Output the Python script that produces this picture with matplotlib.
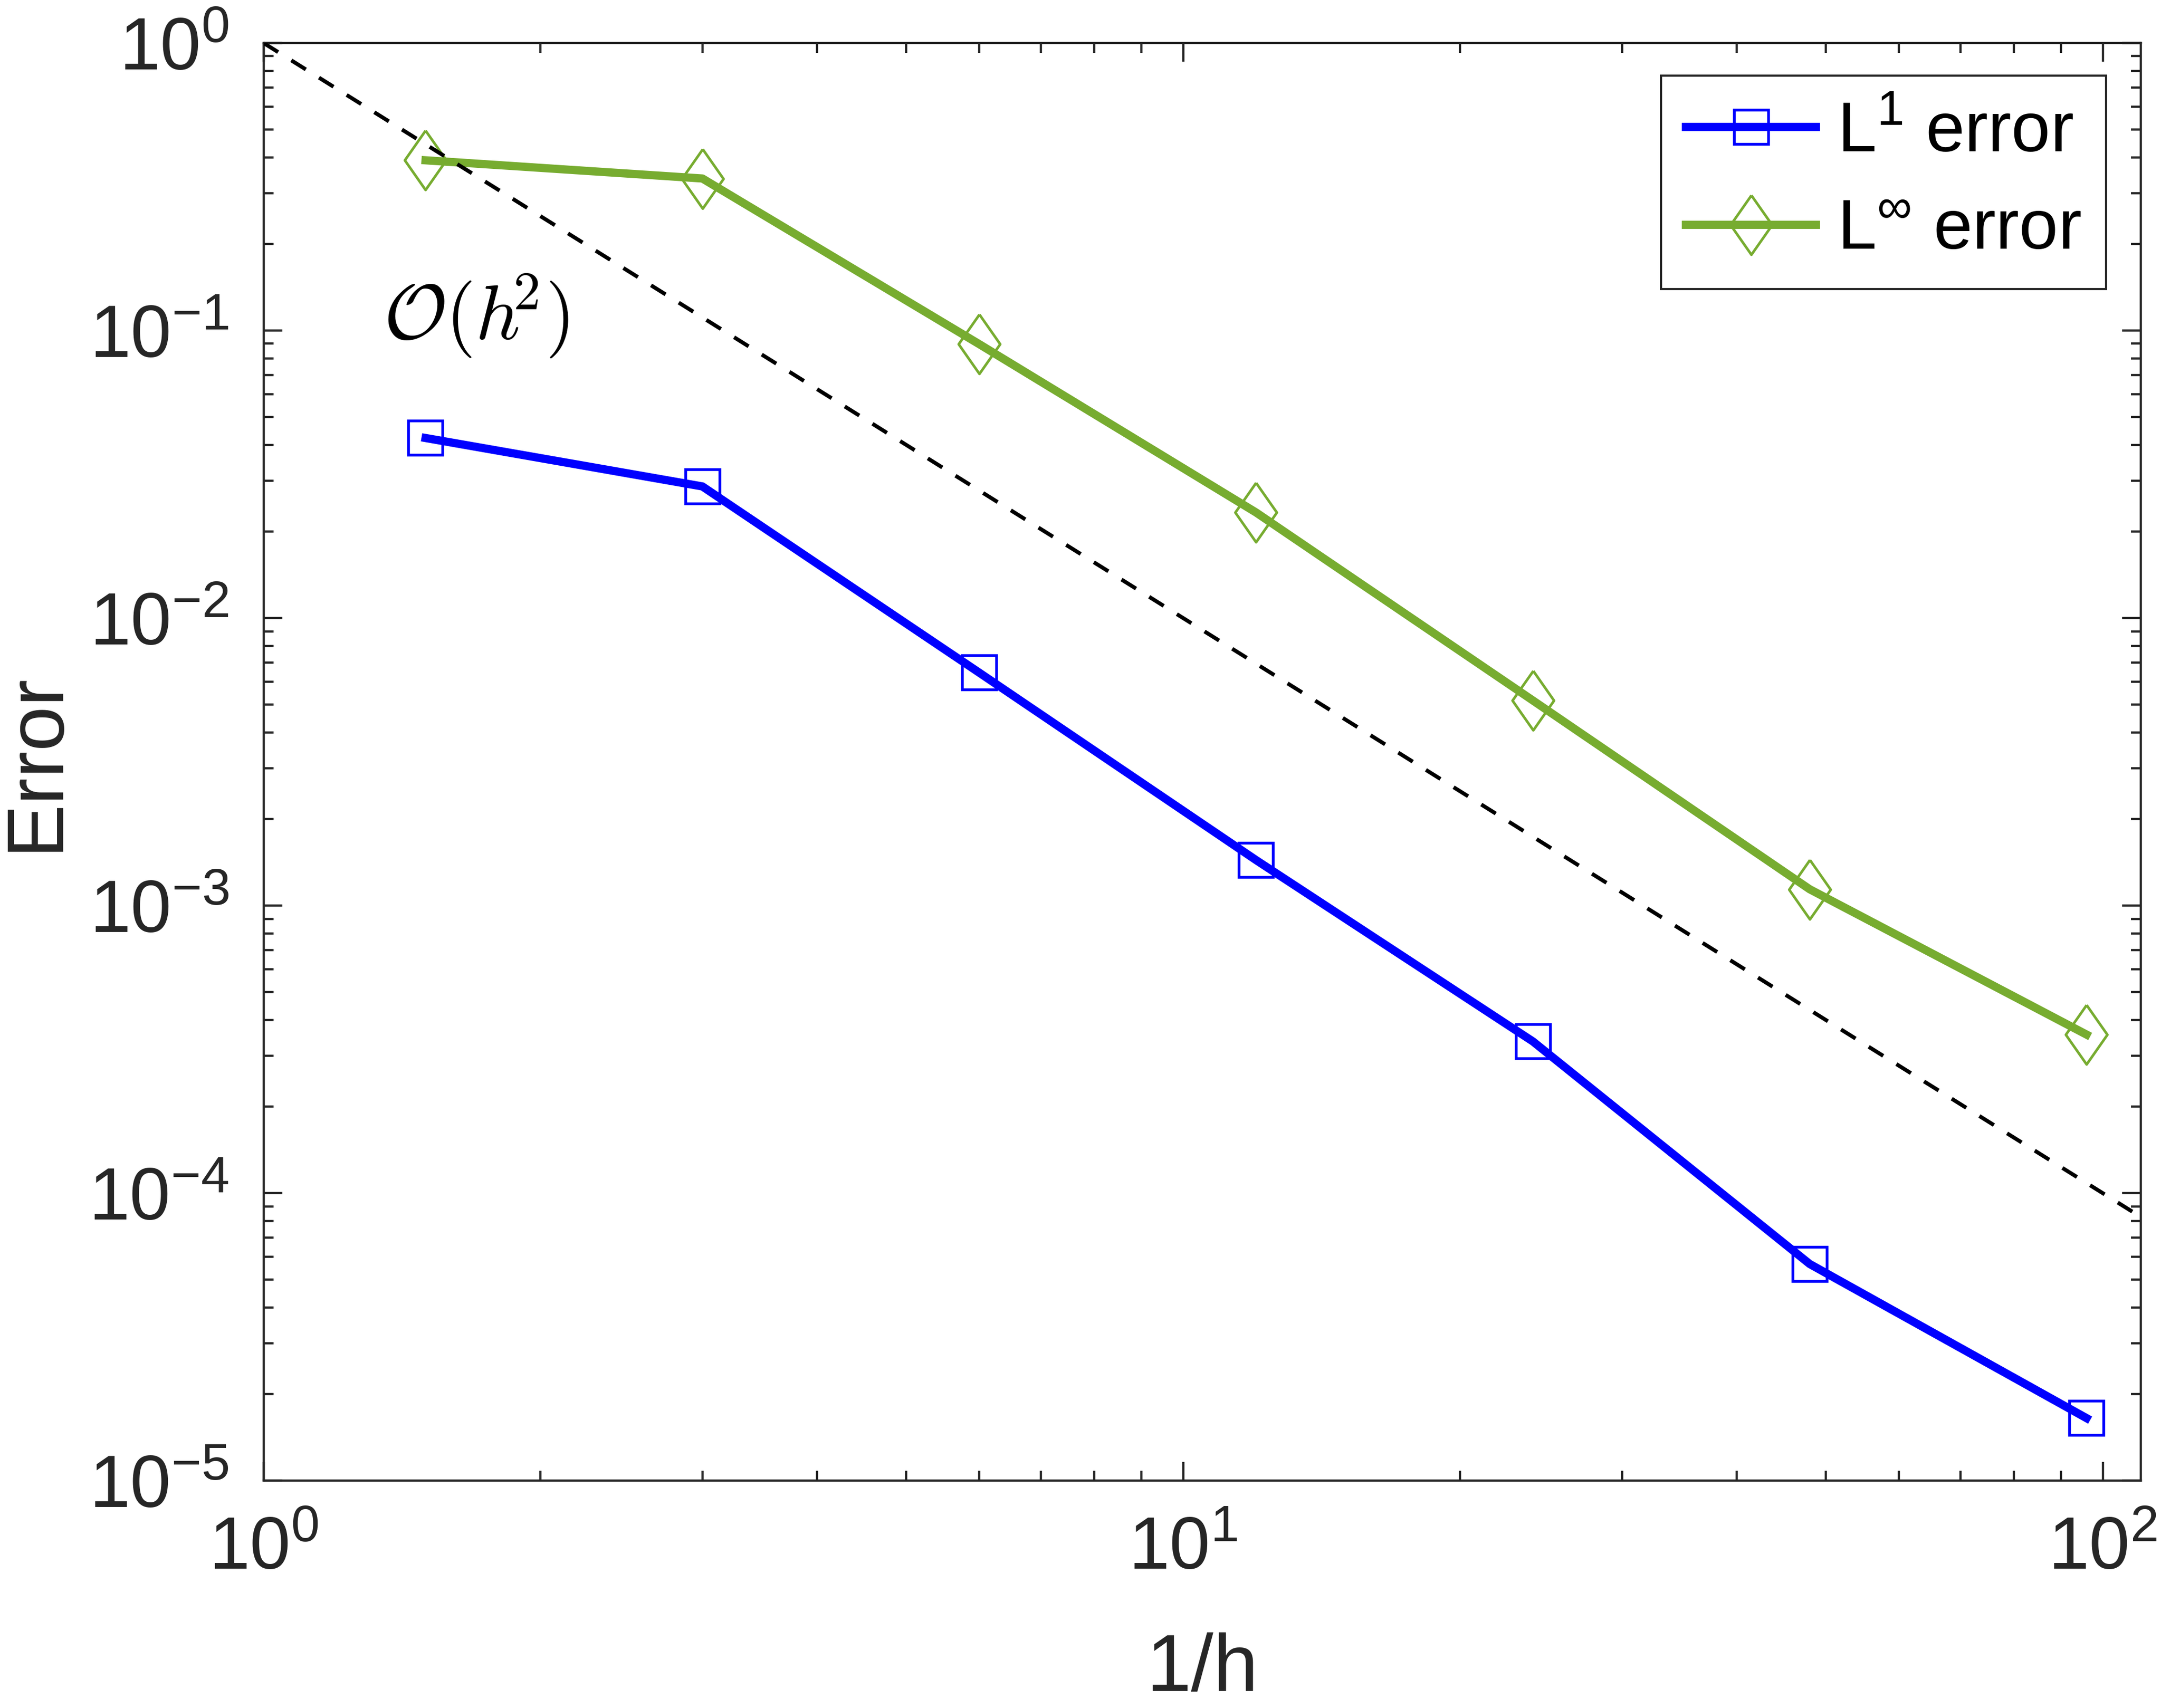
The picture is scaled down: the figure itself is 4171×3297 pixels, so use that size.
import numpy as np
import matplotlib
matplotlib.use("Agg")
import matplotlib.pyplot as plt
from matplotlib.ticker import LogLocator, NullFormatter, FixedLocator

# values
inv_h = [1.5, 3, 6, 12, 24, 48, 96]
err_l1 = [0.0423, 0.0287, 0.00646, 0.00144, 3.37e-4, 5.67e-5, 1.65e-5]
err_linf = [0.391, 0.338, 0.0897, 0.0233, 0.00517, 0.00114, 3.56e-4]

# O(h^2) reference line (end points)
ref_x = [1.0, 110.0]
ref_y = [1.0, 8.26e-5]

xticks = [1, 10, 100]
xtick_labels = [r'$\mathdefault{10^{0}}$', r'$\mathdefault{10^{1}}$', r'$\mathdefault{10^{2}}$']
yticks = [1e-5, 1e-4, 1e-3, 1e-2, 1e-1, 1]
ytick_labels = [r'$\mathdefault{10^{-5}}$', r'$\mathdefault{10^{-4}}$', r'$\mathdefault{10^{-3}}$',
                r'$\mathdefault{10^{-2}}$', r'$\mathdefault{10^{-1}}$', r'$\mathdefault{10^{0}}$']

plt.rcParams['font.family'] = ['Liberation Sans', 'DejaVu Sans']

dark = '#262626'
blue = '#0000FF'
green = '#77AC30'

fig = plt.figure(figsize=(4171 / 300, 3297 / 300), dpi=300)
ax = fig.add_axes([0.1220, 0.1331, 0.8687, 0.8417])

diamond = [(0, 1), (0.7, 0), (0, -1), (-0.7, 0), (0, 1)]

ax.plot(inv_h, err_l1, color=blue, lw=3.8, marker='s', ms=16, mfc='none',
        mec=blue, mew=1.3, label=r'$\mathdefault{L^{1}}$ error')
ax.plot(inv_h, err_linf, color=green, lw=3.8, marker=diamond, ms=27.5, mfc='none',
        mec=green, mew=1.2, label=r'$\mathdefault{L^{\infty}}$ error')
ax.plot(ref_x, ref_y, color='black', lw=1.8, linestyle=(0, (4.4, 4.0)), zorder=3)

ax.set_xscale('log')
ax.set_yscale('log')
ax.set_xlim(1, 110)
ax.set_ylim(1e-5, 1)

ax.xaxis.set_major_locator(FixedLocator(xticks))
ax.set_xticklabels(xtick_labels)
ax.yaxis.set_major_locator(FixedLocator(yticks))
ax.set_yticklabels(ytick_labels)
ax.xaxis.set_minor_locator(LogLocator(base=10, subs=np.arange(2, 10), numticks=20))
ax.yaxis.set_minor_locator(LogLocator(base=10, subs=np.arange(2, 10), numticks=20))
ax.xaxis.set_minor_formatter(NullFormatter())
ax.yaxis.set_minor_formatter(NullFormatter())

ax.tick_params(which='both', direction='in', top=True, right=True, color=dark,
               width=1.05, labelsize=34, labelcolor=dark)
ax.tick_params(which='major', length=8.7)
ax.tick_params(which='minor', length=4.6)
ax.tick_params(axis='x', pad=16)
ax.tick_params(axis='y', pad=16)
for sp in ax.spines.values():
    sp.set_color(dark)
    sp.set_linewidth(1.05)

ax.set_xlabel('1/h', fontsize=37.4, color=dark, labelpad=22)
ax.set_ylabel('Error', fontsize=37.4, color=dark, labelpad=7)

ax.text(1.35, 0.112, r'$\mathcal{O}(h^{\!\!2})$', fontsize=36, math_fontfamily='cm',
        ha='left', va='center', color='black')

leg = ax.legend(loc='upper right', bbox_to_anchor=(0.9815, 0.9773), borderaxespad=0,
                fontsize=32.5, handlelength=1.85, handletextpad=0.3, borderpad=0.36,
                labelspacing=0.46, fancybox=False, framealpha=1, edgecolor=dark)
leg.get_frame().set_linewidth(1.0)

fig.savefig('out.png', dpi=300)
